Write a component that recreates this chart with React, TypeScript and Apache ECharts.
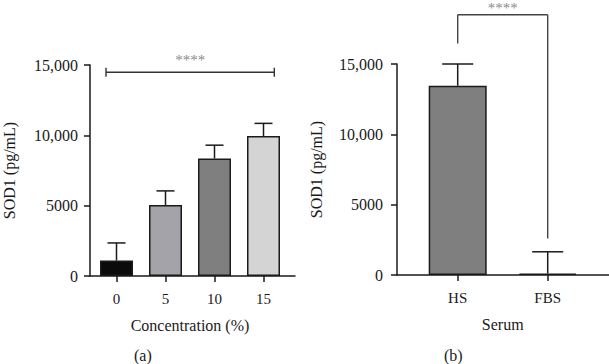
import React, { useEffect, useRef } from "react";
import * as echarts from "echarts";

// Panel (a): SOD1 secreted at each serum concentration
const concentrations = ["0", "5", "10", "15"];
const concMeans = [1100, 5050, 8350, 9950];
const concSD = [1250, 1000, 950, 900];
const concColors = ["#0b0b0b", "#a3a3a9", "#7f7f7f", "#d4d4d4"];

// Panel (b): SOD1 by serum source
const serumGroups = ["HS", "FBS"];
const serumMeans = [13450, 100];
const serumSD = [1550, 1550];
const serumColors = ["#7f7f7f", "#7f7f7f"];

// Shared y scale
const yMin = 0;
const yMax = 15000;
const yStep = 5000;

// Significance brackets
const sigA = { from: 0, to: 3, level: 14480, label: "****" };
const sigB = { from: 0, to: 1, level: 18500, legFrom: 16450, legTo: 2600, label: "****" };

const FONT = "'Liberation Serif', 'Times New Roman', serif";
const INK = "#1a1a1a";

const fmtTick = (v: number) => (v >= 10000 ? v.toLocaleString("en-US") : String(v));

function errorSeries(xi: number, means: number[], sds: number[], halfCap: number) {
  return {
    type: "custom",
    xAxisIndex: xi,
    yAxisIndex: xi,
    z: 5,
    clip: false,
    encode: { x: 0, y: [1, 2] },
    data: means.map((m, i) => [i, m, m + sds[i]]),
    renderItem: (_p: any, api: any) => {
      const i = api.value(0);
      const a = api.coord([i, api.value(1)]);
      const b = api.coord([i, api.value(2)]);
      const style = { stroke: INK, lineWidth: 1.5 };
      return {
        type: "group",
        children: [
          { type: "line", shape: { x1: a[0], y1: a[1], x2: b[0], y2: b[1] }, style },
          { type: "line", shape: { x1: b[0] - halfCap, y1: b[1], x2: b[0] + halfCap, y2: b[1] }, style },
        ],
      };
    },
  };
}

export default function App() {
  const ref = useRef<HTMLDivElement>(null);

  useEffect(() => {
    if (!ref.current) return;
    const chart = echarts.init(ref.current, undefined, { renderer: "svg" });

    const axisLine = { show: true, lineStyle: { color: INK, width: 1.5 } };
    const labelText = { fontFamily: FONT, fontSize: 15, color: INK };
    const nameText = { fontFamily: FONT, fontSize: 16, color: INK };

    const frameX = (grid: number) => ({
      type: "value",
      gridIndex: grid,
      min: 0,
      max: 1,
      axisLine,
      axisTick: { show: false },
      axisLabel: { show: false },
      splitLine: { show: false },
    });
    const catX = (grid: number, cats: string[], name: string) => ({
      type: "category",
      gridIndex: grid,
      data: cats,
      axisLine: { show: false },
      axisTick: { show: true, alignWithLabel: true, length: 6, lineStyle: { color: INK, width: 1.5 } },
      axisLabel: { ...labelText, margin: 15 },
      name,
      nameLocation: "middle",
      nameGap: 41,
      nameTextStyle: nameText,
      splitLine: { show: false },
    });
    const frameY = (grid: number, margin: number) => ({
      type: "value",
      gridIndex: grid,
      min: yMin,
      max: yMax,
      interval: yStep,
      axisLine,
      axisTick: { show: true, length: 6, lineStyle: { color: INK, width: 1.5 } },
      axisLabel: { ...labelText, fontSize: 16, margin, formatter: fmtTick },
      splitLine: { show: false },
      name: "SOD1 (pg/mL)",
      nameLocation: "middle",
      nameRotate: 90,
      nameGap: 73,
      nameTextStyle: nameText,
    });
    const hiddenY = (grid: number) => ({
      type: "value",
      gridIndex: grid,
      min: yMin,
      max: yMax,
      interval: yStep,
      show: false,
      splitLine: { show: false },
    });

    const bracketA = {
      type: "custom",
      xAxisIndex: 1,
      yAxisIndex: 1,
      clip: false,
      z: 6,
      data: [[sigA.from, sigA.to, sigA.level]],
      renderItem: (_p: any, api: any) => {
        const a = api.coord([api.value(0), api.value(2)]);
        const b = api.coord([api.value(1), api.value(2)]);
        const x1 = a[0] - 10.5;
        const x2 = b[0] + 10.8;
        const y = a[1];
        const style = { stroke: "#333", lineWidth: 1.4 };
        return {
          type: "group",
          children: [
            { type: "line", shape: { x1, y1: y, x2, y2: y }, style },
            { type: "line", shape: { x1, y1: y - 4.5, x2: x1, y2: y + 4.5 }, style },
            { type: "line", shape: { x1: x2, y1: y - 4.5, x2, y2: y + 4.5 }, style },
            {
              type: "text",
              style: {
                x: (x1 + x2) / 2,
                y: y - 20,
                text: sigA.label,
                fill: "#8a8a8a",
                font: `15px ${FONT}`,
                align: "center",
                verticalAlign: "top",
              },
            },
          ],
        };
      },
    };

    const bracketB = {
      type: "custom",
      xAxisIndex: 3,
      yAxisIndex: 3,
      clip: false,
      z: 6,
      data: [[sigB.from, sigB.to, sigB.level, sigB.legFrom, sigB.legTo]],
      renderItem: (_p: any, api: any) => {
        const a = api.coord([api.value(0), api.value(2)]);
        const b = api.coord([api.value(1), api.value(2)]);
        const aEnd = api.coord([api.value(0), api.value(3)]);
        const bEnd = api.coord([api.value(1), api.value(4)]);
        const style = { stroke: "#444", lineWidth: 1.4 };
        return {
          type: "group",
          children: [
            { type: "line", shape: { x1: a[0], y1: a[1], x2: b[0], y2: b[1] }, style },
            { type: "line", shape: { x1: a[0], y1: a[1], x2: a[0], y2: aEnd[1] }, style },
            { type: "line", shape: { x1: b[0], y1: b[1], x2: b[0], y2: bEnd[1] }, style },
            {
              type: "text",
              style: {
                x: (a[0] + b[0]) / 2,
                y: 0,
                text: sigB.label,
                fill: "#8a8a8a",
                font: `15px ${FONT}`,
                align: "center",
                verticalAlign: "top",
              },
            },
          ],
        };
      },
    };

    chart.setOption({
      animation: false,
      backgroundColor: "#ffffff",
      textStyle: { fontFamily: FONT },
      grid: [
        { left: 83, top: 65, width: 212, height: 211 },
        { left: 92, top: 65, width: 196, height: 211 },
        { left: 397, top: 64, width: 212, height: 211 },
        { left: 412.7, top: 64, width: 180, height: 211 },
      ],
      xAxis: [
        frameX(0),
        catX(1, concentrations, "Concentration (%)"),
        frameX(2),
        catX(3, serumGroups, "Serum"),
      ],
      yAxis: [frameY(0, 12), hiddenY(1), frameY(2, 14), hiddenY(3)],
      series: [
        {
          type: "bar",
          xAxisIndex: 1,
          yAxisIndex: 1,
          barWidth: 33,
          data: concMeans.map((v, i) => ({
            value: v,
            itemStyle: { color: concColors[i], borderColor: INK, borderWidth: 1.5 },
          })),
        },
        errorSeries(1, concMeans, concSD, 9),
        bracketA,
        {
          type: "bar",
          xAxisIndex: 3,
          yAxisIndex: 3,
          barWidth: 58,
          data: serumMeans.map((v, i) => ({
            value: v,
            itemStyle: { color: serumColors[i], borderColor: INK, borderWidth: 1.5 },
          })),
        },
        errorSeries(3, serumMeans, serumSD, 15.5),
        bracketB,
      ],
      graphic: [
        {
          type: "text",
          left: 134,
          top: 347,
          style: { text: "(a)", font: `16px ${FONT}`, fill: INK },
        },
        {
          type: "text",
          left: 444,
          top: 347,
          style: { text: "(b)", font: `16px ${FONT}`, fill: INK },
        },
      ],
    });

    return () => chart.dispose();
  }, []);

  return (
    <div
      ref={ref}
      style={{ position: "absolute", left: 0, top: 0, width: 609, height: 364, background: "#fff" }}
    />
  );
}
